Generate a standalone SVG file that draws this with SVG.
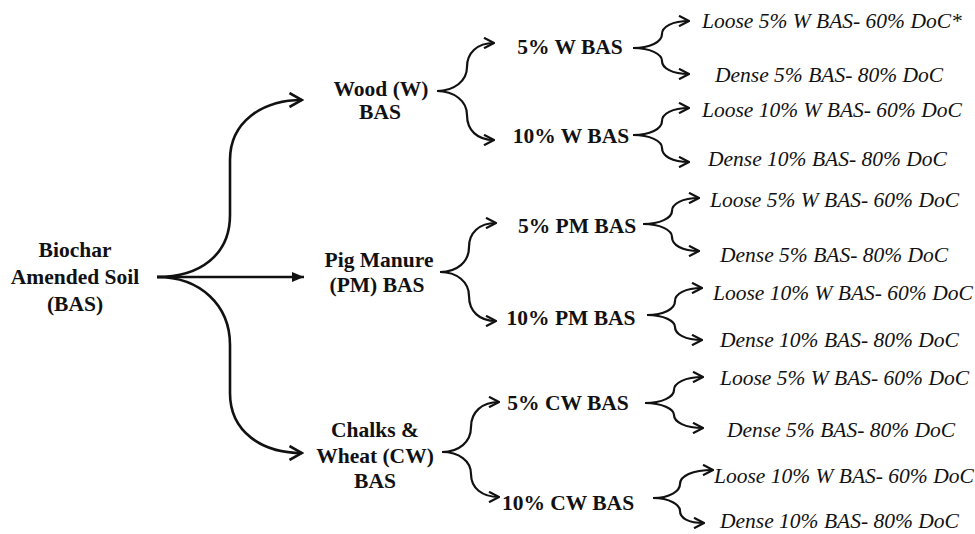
<svg xmlns="http://www.w3.org/2000/svg" width="975" height="534" viewBox="0 0 975 534">
<style>
.b{font-family:"Liberation Serif","Times New Roman",serif;font-weight:bold;font-size:21.5px;fill:#111;text-anchor:middle}
.i{font-family:"Liberation Serif","Times New Roman",serif;font-style:italic;font-size:21.5px;fill:#111}
.c{fill:none;stroke:#111;stroke-width:2.2;marker-end:url(#chev)}
.r{fill:none;stroke:#111;stroke-width:2.6;marker-end:url(#chevL)}
</style>
<defs>
<marker id="chev" markerUnits="userSpaceOnUse" viewBox="0 0 12 12" markerWidth="12" markerHeight="12" refX="11" refY="6" orient="auto">
<path d="M1,0.8 L11,6 L1,11.2" fill="none" stroke="#111" stroke-width="2.2"/>
</marker>
<marker id="chevL" markerUnits="userSpaceOnUse" viewBox="0 0 16 16" markerWidth="16" markerHeight="16" refX="14" refY="8" orient="auto">
<path d="M1.5,1 L14,8 L1.5,15" fill="none" stroke="#111" stroke-width="2.6"/>
</marker>
<marker id="tri" markerUnits="userSpaceOnUse" viewBox="0 0 12 10" markerWidth="12" markerHeight="10" refX="12" refY="5" orient="auto">
<path d="M0,0 L12,5 L0,10 Z" fill="#111"/>
</marker>
</defs>
<rect width="975" height="534" fill="#fff"/>
<g id="connectors">
<path class="r" d="M157,277 C200,277 230,255 230,215 L230,160 C230,122 262,100 302,100"/>
<path d="M157,277 L304,277" fill="none" stroke="#111" stroke-width="2.6" marker-end="url(#tri)"/>
<path class="r" d="M157,277 C200,277 230,305 230,345 L230,393 C230,432 262,453 302,453"/>
<path class="c" d="M437,91 C454,91 467,81 467,67 C467,53 477,43 494,43"/>
<path class="c" d="M437,91 C454,91 467,101 467,115 C467,130 477,140 494,140"/>
<path class="c" d="M440,272 C457,272 469,262 469,247 C469,233 479,223 496,223"/>
<path class="c" d="M440,272 C457,272 469,282 469,296 C469,311 479,321 496,321"/>
<path class="c" d="M442,452 C459,452 471,442 471,427 C471,412 482,402 499,402"/>
<path class="c" d="M442,452 C459,452 471,461 471,474 C471,488 482,497 499,497"/>
<path class="c" d="M633,48 C650,48 662,42 662,34 C662,27 672,21 689,21"/>
<path class="c" d="M633,48 C650,48 662,54 662,61 C662,68 672,74 689,74"/>
<path class="c" d="M633,135 C650,135 662,129 662,121 C662,114 672,108 689,108"/>
<path class="c" d="M633,135 C650,135 662,141 662,148 C662,156 672,162 689,162"/>
<path class="c" d="M643,224 C660,224 672,218 672,211 C672,204 682,198 699,198"/>
<path class="c" d="M643,224 C660,224 672,230 672,237 C672,245 682,251 699,251"/>
<path class="c" d="M647,315 C664,315 675,309 675,301 C675,294 685,288 702,288"/>
<path class="c" d="M647,315 C664,315 675,321 675,327 C675,334 685,340 702,340"/>
<path class="c" d="M645,403 C662,403 674,397 674,390 C674,383 685,377 703,377"/>
<path class="c" d="M645,403 C662,403 674,409 674,415 C674,422 685,428 703,428"/>
<path class="c" d="M653,498 C670,498 680,491 680,484 C680,476 692,470 713,470"/>
<path class="c" d="M653,498 C670,498 680,505 680,511 C680,518 688,523 704,523"/>
</g>
<g id="root"><text class="b" x="75" y="257">Biochar</text><text class="b" x="75" y="284">Amended Soil</text><text class="b" x="75" y="311">(BAS)</text></g>
<g id="wood"><text class="b" x="381" y="96">Wood (W)</text><text class="b" x="380" y="119">BAS</text></g>
<g id="pm"><text class="b" x="379" y="267">Pig Manure</text><text class="b" x="377" y="292">(PM) BAS</text></g>
<g id="cw"><text class="b" x="375" y="437">Chalks &amp;</text><text class="b" x="375" y="463">Wheat (CW)</text><text class="b" x="375" y="488">BAS</text></g>
<g id="w5"><text class="b" x="570" y="54">5% W BAS</text></g>
<g id="w10"><text class="b" x="571" y="143">10% W BAS</text></g>
<g id="pm5"><text class="b" x="577" y="233">5% PM BAS</text></g>
<g id="pm10"><text class="b" x="571" y="325">10% PM BAS</text></g>
<g id="cw5"><text class="b" x="568" y="410">5% CW BAS</text></g>
<g id="cw10"><text class="b" x="568" y="510">10% CW BAS</text></g>
<g id="w5l"><text class="i" x="702" y="28">Loose 5% W BAS- 60% DoC*</text></g>
<g id="w5d"><text class="i" x="715" y="82">Dense 5% BAS- 80% DoC</text></g>
<g id="w10l"><text class="i" x="702" y="117">Loose 10% W BAS- 60% DoC</text></g>
<g id="w10d"><text class="i" x="708" y="166">Dense 10% BAS- 80% DoC</text></g>
<g id="pm5l"><text class="i" x="710" y="207">Loose 5% W BAS- 60% DoC</text></g>
<g id="pm5d"><text class="i" x="720" y="262">Dense 5% BAS- 80% DoC</text></g>
<g id="pm10l"><text class="i" x="713" y="300">Loose 10% W BAS- 60% DoC</text></g>
<g id="pm10d"><text class="i" x="720" y="347">Dense 10% BAS- 80% DoC</text></g>
<g id="cw5l"><text class="i" x="720" y="385">Loose 5% W BAS- 60% DoC</text></g>
<g id="cw5d"><text class="i" x="727" y="437">Dense 5% BAS- 80% DoC</text></g>
<g id="cw10l"><text class="i" x="714" y="483">Loose 10% W BAS- 60% DoC</text></g>
<g id="cw10d"><text class="i" x="720" y="528">Dense 10% BAS- 80% DoC</text></g>
</svg>
